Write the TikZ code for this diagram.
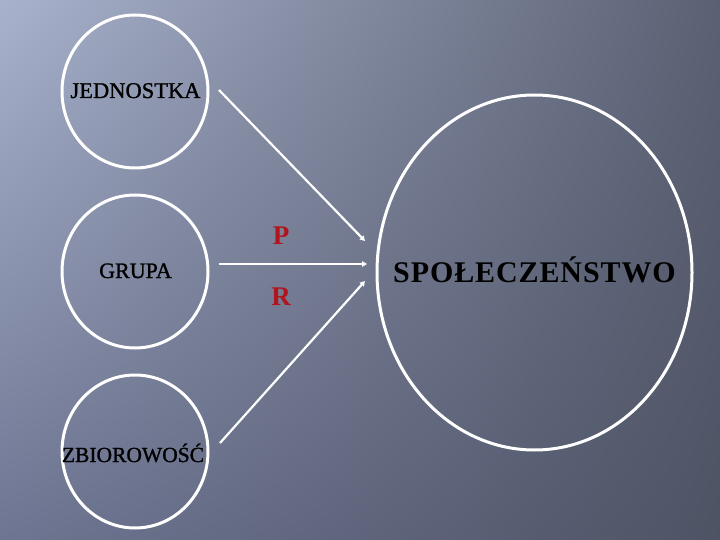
\documentclass[tikz,border=0pt]{standalone}
\usepackage{fontspec}
\setmainfont{Liberation Serif}
\newfontfamily\bigfont[LetterSpace=3]{Liberation Serif}
\newfontfamily\lblfont[FakeBold=1.2]{Liberation Serif}
\usetikzlibrary{arrows.meta,shapes.geometric,shadings}
\definecolor{ulc}{HTML}{A8B2CC}
\definecolor{urc}{HTML}{5B6173}
\definecolor{llc}{HTML}{6E7592}
\definecolor{lrc}{HTML}{4E5364}
\definecolor{redlab}{HTML}{B0141C}
\tikzset{
  ring/.style={draw=white, line width=3pt, ellipse, inner sep=0pt},
  word/.style={anchor=base, font=\lblfont\fontsize{22.5}{26}\selectfont, text=black, inner sep=0pt},
  redword/.style={anchor=base, font=\bfseries\fontsize{27}{30}\selectfont, text=redlab, inner sep=0pt},
  conn/.style={draw=white, line width=2.2pt, -{Triangle[width=5.5pt,length=5pt]}}
}
\begin{document}
\begin{tikzpicture}[x=1pt,y=-1pt]
\useasboundingbox (0,0) rectangle (720,540);
\shade[upper left=ulc, upper right=urc, lower left=llc, lower right=lrc] (0,0) rectangle (720,540);

\node[ring, minimum width=146pt, minimum height=153pt] (c1) at (135,91.5) {};
\node[ring, minimum width=146pt, minimum height=153pt] (c2) at (135,271.5) {};
\node[ring, minimum width=146pt, minimum height=153pt] (c3) at (135,451.5) {};
\node[ring, minimum width=315pt, minimum height=355pt] (big) at (534.5,272.5) {};

\node[word] (t1) at (135.5,98) {JEDNOSTKA};
\node[word, font=\lblfont\fontsize{22}{26}\selectfont] (t2) at (135.5,278) {GRUPA};
\node[word, font=\lblfont\fontsize{21.5}{26}\selectfont] (t3) at (133,462) {ZBIOROWOŚĆ};
\node[anchor=base, inner sep=0pt, font=\bigfont\bfseries\fontsize{30}{32}\selectfont] (t4) at (534.5,282) {SPOŁECZEŃSTWO};

\node[redword] (p) at (281,244) {P};
\node[redword] (r) at (281,305) {R};

\coordinate (s1) at (219,90);
\coordinate (e1) at (365,241);
\coordinate (s2) at (219,264);
\coordinate (e2) at (367,264);
\coordinate (s3) at (220,443);
\coordinate (e3) at (365,281);
\draw[conn] (s1) -- (e1);
\draw[conn] (s2) -- (e2);
\draw[conn] (s3) -- (e3);
\end{tikzpicture}
\end{document}
